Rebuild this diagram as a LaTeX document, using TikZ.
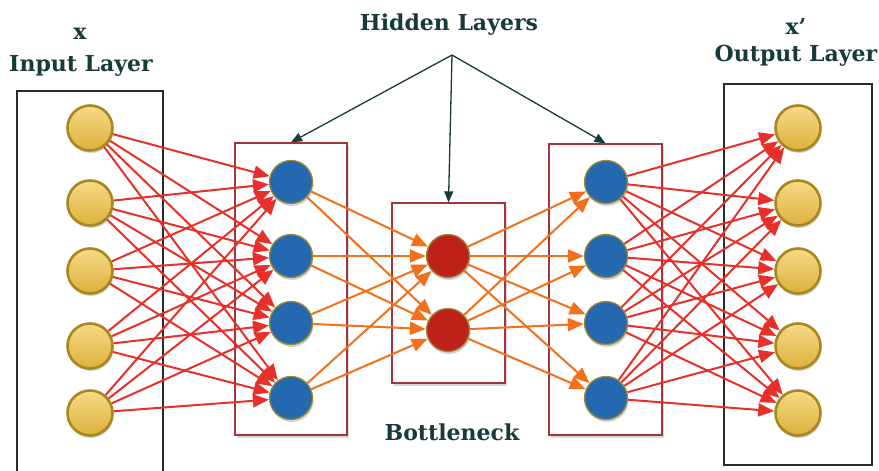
\documentclass[tikz,border=0pt]{standalone}
\usepackage{fontspec}
\setmainfont{DejaVu Serif}
\usetikzlibrary{arrows.meta,shadows}
\definecolor{txt}{HTML}{173A3A}
\definecolor{redl}{HTML}{E8302A}
\definecolor{orl}{HTML}{F2701C}
\definecolor{blu}{HTML}{2468B0}
\definecolor{rnode}{HTML}{BE2119}
\definecolor{goldT}{HTML}{F6DA85}
\definecolor{goldB}{HTML}{DDB03E}
\definecolor{goldE}{HTML}{A8871E}
\definecolor{oliveE}{HTML}{9C8B32}
\definecolor{boxR}{HTML}{A3353A}
\definecolor{boxK}{HTML}{2A2A2A}
\tikzset{
  lbl/.style={font=\bfseries\fontsize{22}{24}\selectfont, text=txt, inner sep=0pt},
  goldn/.style={circle, minimum size=45pt, inner sep=0pt, draw=goldE, line width=2.6pt,
     top color=goldT, bottom color=goldB, drop shadow={shadow xshift=1pt, shadow yshift=-2.5pt, opacity=0.35}},
  bluen/.style={circle, minimum size=43pt, inner sep=0pt, draw=oliveE, line width=1.3pt,
     fill=blu, drop shadow={shadow xshift=1pt, shadow yshift=-2.5pt, opacity=0.35}},
  redn/.style={circle, minimum size=43pt, inner sep=0pt, draw=oliveE, line width=1.3pt,
     fill=rnode, drop shadow={shadow xshift=1pt, shadow yshift=-2.5pt, opacity=0.35}},
  hbox/.style={draw=boxR, line width=1.3pt, fill=white, drop shadow={shadow xshift=2pt, shadow yshift=-3pt, opacity=0.3}},
  kbox/.style={draw=boxK, line width=1.3pt},
  redc/.style={draw=redl, line width=2pt, -{Triangle[length=16pt,width=13pt]}},
  orc/.style={draw=orl, line width=2pt, -{Triangle[length=16pt,width=13pt]}},
  hlc/.style={draw=txt, line width=1.3pt, -{Triangle[length=11pt,width=9pt]}},
}
\begin{document}
\begin{tikzpicture}[x=1pt,y=-1pt]
\useasboundingbox[fill=white] (0,0) rectangle (879,471);
% boxes
\draw[kbox] (17,471) -- (17,91) -- (163,91) -- (163,471);
\node[kbox, minimum width=148pt, minimum height=381pt, inner sep=0pt] (obox) at (798,274.5) {};
\node[hbox, minimum width=112pt, minimum height=292pt, inner sep=0pt] (abox) at (291,289) {};
\node[hbox, minimum width=113pt, minimum height=180pt, inner sep=0pt] (bbox) at (448.5,293) {};
\node[hbox, minimum width=113pt, minimum height=291pt, inner sep=0pt] (cbox) at (605.5,289.5) {};
% labels
\node[lbl] (xl) at (80,34) {x};
\node[lbl] (il) at (81,66) {Input Layer};
\node[lbl] (hl) at (449,25) {Hidden Layers};
\node[lbl] (xpl) at (796,26) {x’};
\node[lbl] (ol) at (796,56) {Output Layer};
\node[lbl] (bl) at (452,432) {Bottleneck};
% nodes
\foreach \i/\y in {1/128,2/203,3/271,4/346,5/413} {
  \node[goldn] (i\i) at (90,\y) {};
  \node[goldn] (o\i) at (798,\y) {};
}
\foreach \i/\y in {1/182,2/256,3/323,4/398} {
  \node[bluen] (a\i) at (291,\y) {};
  \node[bluen] (c\i) at (606,\y) {};
}
\node[redn] (b1) at (448,256) {};
\node[redn] (b2) at (448,330) {};
% connectors
\foreach \i in {1,...,5} \foreach \j in {1,...,4} {
  \draw[redc] (i\i) -- (a\j);
  \draw[redc] (c\j) -- (o\i);
}
\foreach \j in {1,...,4} \foreach \k in {1,2} {
  \draw[orc] (a\j) -- (b\k);
  \draw[orc] (b\k) -- (c\j);
}
% hidden layer pointers
\coordinate (hp) at (452,55);
\draw[hlc] (hp) -- (abox.north);
\draw[hlc] (hp) -- (bbox.north);
\draw[hlc] (hp) -- (cbox.north);
\end{tikzpicture}
\end{document}
